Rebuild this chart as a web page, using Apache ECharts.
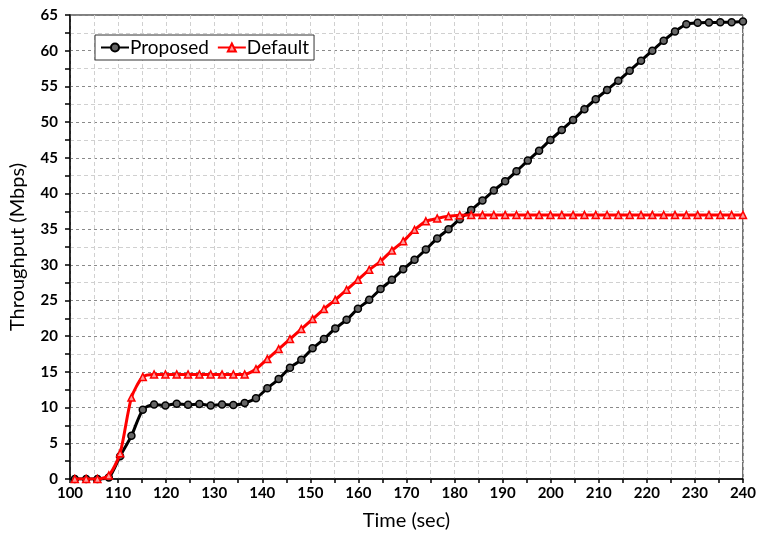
<!DOCTYPE html>
<html>
<head>
<meta charset="utf-8">
<script src="https://cdn.jsdelivr.net/npm/echarts@6/dist/echarts.min.js"></script>
<style>html,body{margin:0;padding:0;background:#fff;}#c{width:759px;height:536px;}</style>
</head>
<body>
<div id="c"></div>
<script>
const times = [101.0,103.36,105.71,108.07,110.42,112.78,115.14,117.49,119.85,122.20,
124.56,126.92,129.27,131.63,133.98,136.34,138.69,141.05,143.41,145.76,
148.12,150.47,152.83,155.19,157.54,159.90,162.25,164.61,166.97,169.32,
171.68,174.03,176.39,178.75,181.10,183.46,185.81,188.17,190.53,192.88,
195.24,197.59,199.95,202.31,204.66,207.02,209.37,211.73,214.08,216.44,
218.80,221.15,223.51,225.86,228.22,230.58,232.93,235.29,237.64,240.0];

const proposed = [0,0,0,0.2,3.2,6.05,9.7,10.45,10.3,10.55,
10.4,10.5,10.3,10.45,10.35,10.65,11.3,12.7,14.0,15.6,
16.7,18.3,19.6,21.1,22.3,23.85,25.1,26.6,27.9,29.4,
30.7,32.15,33.7,35.0,36.4,37.7,39.0,40.4,41.7,43.1,
44.6,46.0,47.5,48.9,50.3,51.8,53.2,54.5,55.8,57.2,
58.6,60.0,61.4,62.7,63.7,63.9,63.95,64.0,64.0,64.1];

const defaultS = [0,0,0,0.5,3.6,11.4,14.3,14.65,14.65,14.65,
14.65,14.65,14.65,14.65,14.65,14.65,15.4,16.8,18.2,19.6,
21.0,22.4,23.8,25.1,26.5,27.9,29.3,30.5,32.0,33.3,
34.9,36.1,36.5,36.8,36.95,37.0,37.0,37.0,37.0,37.0,
37.0,37.0,37.0,37.0,37.0,37.0,37.0,37.0,37.0,37.0,
37.0,37.0,37.0,37.0,37.0,37.0,37.0,37.0,37.0,37.0];

const seriesNames = ['Proposed','Default'];

const FONT = 'Lato';
const pair = (ys) => times.map((t,i)=>[t, ys[i]]);

const chart = echarts.init(document.getElementById('c'), null, {renderer:'canvas'});
chart.setOption({
  animation:false,
  backgroundColor:'#fff',
  textStyle:{fontFamily:FONT},
  grid:{left:70,right:14,top:15,bottom:55,show:true,borderColor:'#000',borderWidth:1,backgroundColor:'transparent'},
  legend:{
    left:95, top:35, orient:'horizontal',
    backgroundColor:'#fff', borderColor:'#333', borderWidth:1,
    padding:[3,5,3,5], itemWidth:28, itemHeight:10, itemGap:8,
    textStyle:{fontFamily:FONT,fontSize:19,color:'#000',padding:[0,0,0,-4]},
    data:seriesNames
  },
  xAxis:{
    type:'value', min:100, max:240, interval:5,
    name:'Time (sec)', nameLocation:'middle', nameGap:32,
    nameTextStyle:{fontFamily:FONT,fontSize:20,color:'#000'},
    axisLine:{show:true,lineStyle:{color:'#000',width:1.5}},
    axisTick:{show:true,inside:false,length:4,lineStyle:{color:'#000',width:1.5}},
    axisLabel:{fontFamily:FONT,fontWeight:'bold',fontSize:15,color:'#000',margin:7,
      formatter:(v)=> (v%10===0 ? String(v) : '')},
    splitLine:{show:true,lineStyle:{color:'#d0d0d0',type:[4,3],width:1}}
  },
  yAxis:{
    type:'value', min:0, max:65, interval:5,
    name:'Throughput (Mbps)', nameLocation:'middle', nameGap:42,
    nameTextStyle:{fontFamily:FONT,fontSize:20,color:'#000'},
    axisLine:{show:true,lineStyle:{color:'#000',width:1.5}},
    axisTick:{show:true,inside:false,length:5,lineStyle:{color:'#000',width:1.5}},
    minorTick:{show:true,splitNumber:2,length:5,lineStyle:{color:'#000',width:1.5}},
    axisLabel:{fontFamily:FONT,fontWeight:'bold',fontSize:15,color:'#000',margin:12},
    splitLine:{show:true,lineStyle:{color:'#8a8a8a',type:[3,3],width:1}},
    minorSplitLine:{show:true,lineStyle:{color:'#d0d0d0',type:[4,3],width:1}}
  },
  series:[
    {
      name:seriesNames[0], type:'line', data:pair(proposed), smooth:0.25,
      symbol:'circle', symbolSize:7,
      lineStyle:{color:'#000',width:3},
      itemStyle:{color:'#666',borderColor:'#000',borderWidth:1.5},
      z:3
    },
    {
      name:seriesNames[1], type:'line', data:pair(defaultS), smooth:0.25,
      symbol:'triangle', symbolSize:7,
      lineStyle:{color:'#ff0000',width:3},
      itemStyle:{color:'#ff9a9a',borderColor:'#ff0000',borderWidth:1.5},
      z:4
    }
  ]
});
</script>
</body>
</html>
